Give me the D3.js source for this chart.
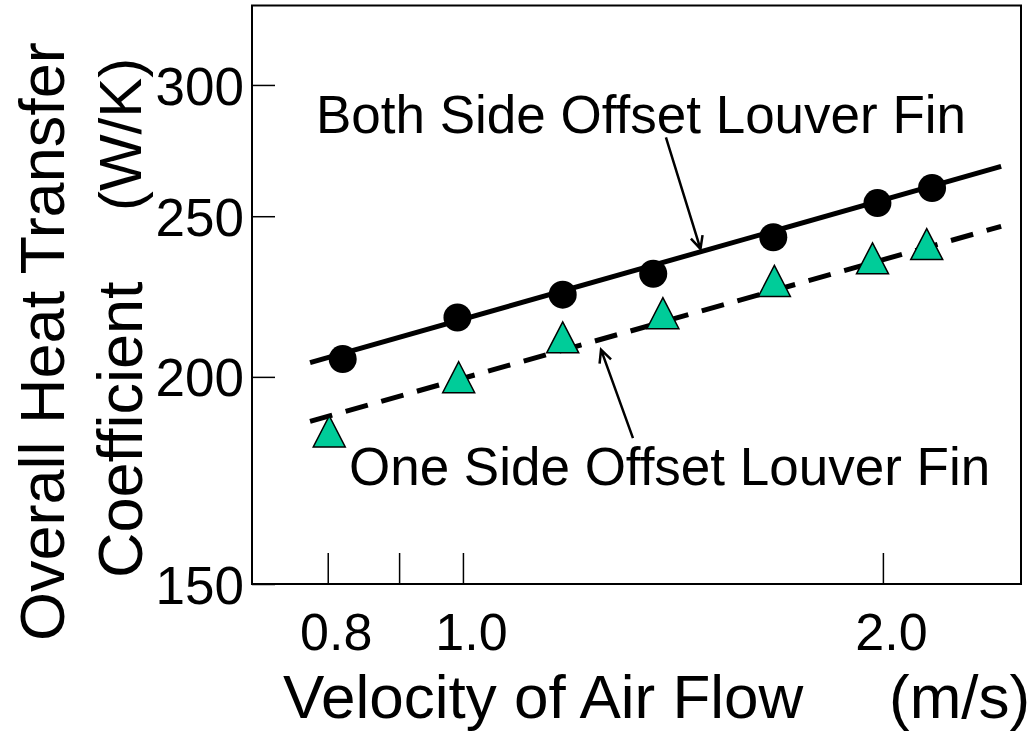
<!DOCTYPE html>
<html>
<head>
<meta charset="utf-8">
<script src="https://cdn.jsdelivr.net/npm/d3@7"></script>
<style>
	body { margin: 0; background: #fff; }
	svg { display: block; font-family: "Liberation Sans", Arial, sans-serif; }
</style>
</head>
<body>
<div id="chart"></div>
<script>
(function() {
	// velocity of air flow (m/s) and overall heat transfer coefficient (W/K)
	const velBoth = [0.820, 0.991, 1.179, 1.369, 1.669, 1.982, 2.169];
	const uBoth = [205.0, 217.2, 224.2, 230.8, 242.8, 254.6, 260.0];
	const velOne = [0.802, 0.993, 1.179, 1.391, 1.672, 1.966, 2.150];
	const uOne = [185.4, 199.9, 211.3, 218.5, 228.5, 235.8, 240.5];

	// fitted lines, ends only
	const fitVel = [0.777, 2.431];
	const fitBoth = [204.0, 267.9];
	const fitOne = [188.0, 246.5];

	const xTicks = [0.8, 0.9, 1.0, 2.0];
	const xLabels = ['0.8', '', '1.0', '2.0'];
	const yTicks = [150, 200, 250, 300];

	// annotation labels and arrows, in data units
	const noteText = ['Both Side Offset Louver Fin', 'One Side Offset Louver Fin'];
	const noteAt = [[0.7846, 280.5], [0.8285, 172.2]];
	const arrowFrom = [[1.398, 278.9], [1.324, 183.7]];
	const arrowTo = [[1.480, 238.9], [1.256, 207.7]];

	const width = 1031, height = 733;
	const box = { left: 252, top: 5.5, right: 1021, bottom: 584 };

	let svg = d3.select('#chart')
		.append('svg')
		.attr('width', width)
		.attr('height', height);

	let x = d3.scaleLog()
		.domain([0.706, 2.512])
		.range([box.left, box.right]);
	let y = d3.scaleLog()
		.domain([150, 335])
		.range([box.bottom, box.top]);

	// axes with inward ticks
	let xAxis = svg.append('g')
		.attr('transform', `translate(0,${box.bottom})`)
		.call(d3.axisBottom(x)
			.tickValues(xTicks)
			.tickFormat((d, i) => xLabels[i])
			.tickSizeInner(-31)
			.tickSizeOuter(0));
	xAxis.select('.domain').remove();
	xAxis.selectAll('line').attr('stroke', '#000').attr('stroke-width', 1.5);
	xAxis.selectAll('text')
		.attr('y', 66)
		.attr('dy', 0)
		.attr('dx', 8)
		.attr('fill', '#000')
		.style('font-size', '52px')
		.style('font-family', '"Liberation Sans", Arial, sans-serif');

	let yAxis = svg.append('g')
		.attr('transform', `translate(${box.left},0)`)
		.call(d3.axisLeft(y)
			.tickValues(yTicks)
			.tickFormat(d3.format('d'))
			.tickSizeInner(-23)
			.tickSizeOuter(0)
			.tickPadding(8));
	yAxis.select('.domain').remove();
	yAxis.selectAll('line').attr('stroke', '#000').attr('stroke-width', 1.5);
	yAxis.selectAll('text')
		.attr('dy', '0.36em')
		.attr('fill', '#000')
		.style('font-size', '53px')
		.style('font-family', '"Liberation Sans", Arial, sans-serif');

	svg.append('rect')
		.attr('x', box.left)
		.attr('y', box.top)
		.attr('width', box.right - box.left)
		.attr('height', box.bottom - box.top)
		.attr('fill', 'none')
		.attr('stroke', '#000')
		.attr('stroke-width', 2);

	// fitted lines
	let line = d3.line()
		.x(d => x(d[0]))
		.y(d => y(d[1]));

	svg.append('path')
		.datum(fitVel.map((v, i) => [v, fitBoth[i]]))
		.attr('d', line)
		.attr('fill', 'none')
		.attr('stroke', '#000')
		.attr('stroke-width', 5);

	svg.append('path')
		.datum(fitVel.map((v, i) => [v, fitOne[i]]))
		.attr('d', line)
		.attr('fill', 'none')
		.attr('stroke', '#000')
		.attr('stroke-width', 5)
		.attr('stroke-dasharray', '23,14');

	// markers
	svg.selectAll('.both')
		.data(velBoth.map((v, i) => [v, uBoth[i]]))
		.enter()
		.append('circle')
		.attr('class', 'both')
		.attr('cx', d => x(d[0]))
		.attr('cy', d => y(d[1]))
		.attr('r', 14)
		.attr('fill', '#000');

	svg.selectAll('.one')
		.data(velOne.map((v, i) => [v, uOne[i]]))
		.enter()
		.append('path')
		.attr('class', 'one')
		.attr('transform', d => `translate(${x(d[0])},${y(d[1])})`)
		.attr('d', 'M0,-15.5L16,15.5L-16,15.5Z')
		.attr('fill', '#00CC99')
		.attr('stroke', '#000')
		.attr('stroke-width', 1.5)
		.attr('stroke-linejoin', 'miter');

	// annotations
	noteText.forEach((t, i) => {
		svg.append('text')
			.attr('x', x(noteAt[i][0]))
			.attr('y', y(noteAt[i][1]))
			.style('font-size', '53px')
			.text(t);

		let x0 = x(arrowFrom[i][0]), y0 = y(arrowFrom[i][1]);
		let x1 = x(arrowTo[i][0]), y1 = y(arrowTo[i][1]);
		let a = Math.atan2(y1 - y0, x1 - x0);
		let len = 14, spread = 0.45;
		let path = d3.path();
		path.moveTo(x0, y0);
		path.lineTo(x1, y1);
		path.moveTo(x1 - len * Math.cos(a - spread), y1 - len * Math.sin(a - spread));
		path.lineTo(x1, y1);
		path.lineTo(x1 - len * Math.cos(a + spread), y1 - len * Math.sin(a + spread));
		svg.append('path')
			.attr('d', path.toString())
			.attr('fill', 'none')
			.attr('stroke', '#000')
			.attr('stroke-width', 2.5);
	});

	// axis titles
	svg.append('text')
		.attr('x', 283)
		.attr('y', 718)
		.style('font-size', '62px')
		.text('Velocity of Air Flow');
	svg.append('text')
		.attr('x', 889)
		.attr('y', 718)
		.style('font-size', '62px')
		.text('(m/s)');

	svg.append('text')
		.attr('transform', 'translate(64,641) rotate(-90)')
		.style('font-size', '63px')
		.text('Overall Heat Transfer');
	svg.append('text')
		.attr('transform', 'translate(142,578) rotate(-90)')
		.style('font-size', '63px')
		.text('Coefficient');
	svg.append('text')
		.attr('transform', 'translate(141,211) rotate(-90)')
		.style('font-size', '60px')
		.text('(W/K)');
})();
</script>
</body>
</html>
